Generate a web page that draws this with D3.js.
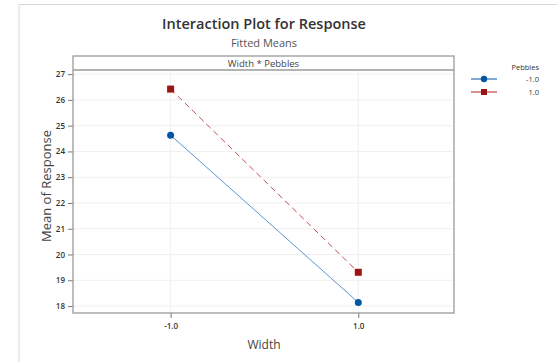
<!DOCTYPE html>
<html>
<head>
<meta charset="utf-8">
<script src="https://cdn.jsdelivr.net/npm/d3@7"></script>
<style>
  body { margin: 0; background: #fff; }
  text { font-family: "Open Sans", "Noto Sans", sans-serif; }
</style>
</head>
<body>
<div id="chart"></div>
<script>
// data
var widthLevels = [-1, 1];
var widthLabels = ["-1.0", "1.0"];
var pebblesLow = [24.63, 18.14];   // Pebbles = -1.0
var pebblesHigh = [26.42, 19.31];  // Pebbles = 1.0
var yTicks = [18, 19, 20, 21, 22, 23, 24, 25, 26, 27];
var seriesNames = ["-1.0", "1.0"];

var W = 557, H = 362;
var svg = d3.select("#chart").append("svg")
  .attr("width", W)
  .attr("height", H);

// outer frame (top + left edges only visible)
svg.append("path")
  .attr("d", "M19," + H + " V4.5 H" + W)
  .attr("fill", "none")
  .attr("stroke", "#d9d9d9")
  .attr("stroke-width", 1);

var pLeft = 73, pRight = 454, pTop = 56, pStrip = 70, pBottom = 313;

var x = d3.scaleLinear().domain([-2.04, 2.02]).range([pLeft, pRight]);
var y = d3.scaleLinear().domain([17.73, 27.16]).range([pBottom, pStrip]);

// gridlines
var grid = svg.append("g");
grid.selectAll(".gy").data(yTicks).enter().append("line")
  .attr("x1", pLeft).attr("x2", pRight)
  .attr("y1", d => y(d)).attr("y2", d => y(d))
  .attr("stroke", "#f0f0f0");
grid.selectAll(".gx").data(widthLevels).enter().append("line")
  .attr("y1", pStrip).attr("y2", pBottom)
  .attr("x1", d => x(d)).attr("x2", d => x(d))
  .attr("stroke", "#f0f0f0");

// axes
var yAxis = svg.append("g")
  .attr("transform", "translate(" + pLeft + ",0)")
  .call(d3.axisLeft(y).tickValues(yTicks).tickSize(5).tickPadding(3));
var xAxis = svg.append("g")
  .attr("transform", "translate(0," + pBottom + ")")
  .call(d3.axisBottom(x).tickValues(widthLevels).tickFormat((d, i) => widthLabels[i]).tickSize(5).tickPadding(5));
[yAxis, xAxis].forEach(function(a) {
  a.select(".domain").remove();
  a.selectAll("line").attr("stroke", "#777");
  a.selectAll("text")
    .attr("fill", "#333")
    .style("font-size", "8px")
    .style("font-weight", "600");
});

// panel + header strip
svg.append("rect")
  .attr("x", pLeft).attr("y", pTop)
  .attr("width", pRight - pLeft).attr("height", pBottom - pTop)
  .attr("fill", "none").attr("stroke", "#9a9a9a").attr("stroke-width", 1.3);
svg.append("line")
  .attr("x1", pLeft).attr("x2", pRight)
  .attr("y1", pStrip).attr("y2", pStrip)
  .attr("stroke", "#9a9a9a").attr("stroke-width", 1.3);
svg.append("text")
  .attr("x", (pLeft + pRight) / 2).attr("y", pStrip - 3.5)
  .attr("text-anchor", "middle")
  .attr("fill", "#444")
  .style("font-size", "9.5px")
  .text("Width * Pebbles");

// series
var line = d3.line().x((d, i) => x(widthLevels[i])).y(d => y(d));

svg.append("path").datum(pebblesLow)
  .attr("d", line)
  .attr("fill", "none").attr("stroke", "#5b95d3").attr("stroke-width", 1);
svg.append("path").datum(pebblesHigh)
  .attr("d", line)
  .attr("fill", "none").attr("stroke", "#c0504d").attr("stroke-width", 1)
  .attr("stroke-dasharray", "6,4");

svg.selectAll(".ptLow").data(pebblesLow).enter().append("circle")
  .attr("cx", (d, i) => x(widthLevels[i]))
  .attr("cy", d => y(d))
  .attr("r", 3.5)
  .attr("fill", "#0055a5");
svg.selectAll(".ptHigh").data(pebblesHigh).enter().append("rect")
  .attr("x", (d, i) => x(widthLevels[i]) - 3.5)
  .attr("y", d => y(d) - 3.5)
  .attr("width", 7).attr("height", 7)
  .attr("fill", "#9c1313");

// titles
svg.append("text")
  .attr("x", 264).attr("y", 28.5)
  .attr("text-anchor", "middle")
  .attr("fill", "#333")
  .style("font-size", "14.5px")
  .style("font-weight", "600")
  .text("Interaction Plot for Response");
svg.append("text")
  .attr("x", 264).attr("y", 46.5)
  .attr("text-anchor", "middle")
  .attr("fill", "#555")
  .style("font-size", "11px")
  .text("Fitted Means");
svg.append("text")
  .attr("transform", "translate(51,186) rotate(-90)")
  .attr("text-anchor", "middle")
  .attr("fill", "#444")
  .style("font-size", "13px")
  .text("Mean of Response");
svg.append("text")
  .attr("x", 264).attr("y", 349)
  .attr("text-anchor", "middle")
  .attr("fill", "#444")
  .style("font-size", "12px")
  .text("Width");

// legend
var lg = svg.append("g");
lg.append("text")
  .attr("x", 539).attr("y", 70)
  .attr("text-anchor", "end")
  .attr("fill", "#333")
  .style("font-size", "7.5px")
  .text("Pebbles");
var colors = ["#0055a5", "#9c1313"];
var lineColors = ["#0055a5", "#b02020"];
seriesNames.forEach(function(name, i) {
  var ly = 79 + i * 13;
  lg.append("line")
    .attr("x1", 471).attr("x2", 497)
    .attr("y1", ly).attr("y2", ly)
    .attr("stroke", lineColors[i]).attr("stroke-width", 1);
  if (i === 0) {
    lg.append("circle").attr("cx", 484).attr("cy", ly).attr("r", 3.2).attr("fill", colors[i]);
  } else {
    lg.append("rect").attr("x", 481).attr("y", ly - 3).attr("width", 6).attr("height", 6).attr("fill", colors[i]);
  }
  lg.append("text")
    .attr("x", 539).attr("y", ly + 3)
    .attr("text-anchor", "end")
    .attr("fill", "#333")
    .style("font-size", "7.5px")
    .text(name);
});
</script>
</body>
</html>
